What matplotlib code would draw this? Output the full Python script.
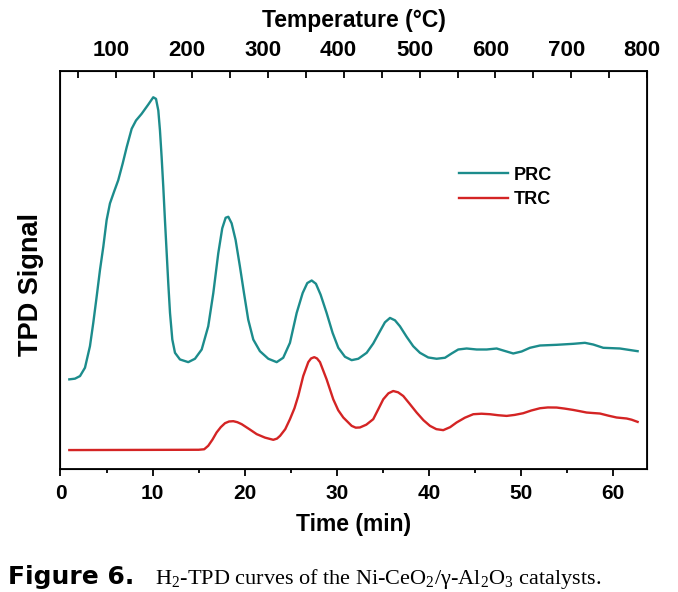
import matplotlib.pyplot as plt
import matplotlib.transforms as mtransforms
from matplotlib.ticker import MultipleLocator

plt.rcParams['font.family'] = ['Liberation Sans', 'DejaVu Sans']
plt.rcParams['mathtext.fontset'] = 'custom'
plt.rcParams['mathtext.rm'] = 'Liberation Serif'

# PRC curve (time in min, signal in a.u.)
prc_t = [0.96, 1.57, 2.12, 2.66, 3.20, 3.56, 3.93, 4.29, 4.65, 5.01, 5.37, 5.81,
         6.27, 6.75, 7.19, 7.73, 8.20, 8.81, 9.53, 10.07, 10.37, 10.62, 10.80, 10.98,
         11.16, 11.34, 11.53, 11.70, 11.89, 12.14, 12.43, 12.97, 13.87, 14.60, 15.33,
         16.04, 16.59, 17.13, 17.56, 17.93, 18.22, 18.58, 19.01, 19.48, 19.92, 20.38,
         20.93, 21.65, 22.56, 23.47, 24.18, 24.91, 25.64, 26.29, 26.79, 27.27, 27.73,
         28.24, 28.89, 29.54, 30.16, 30.88, 31.61, 32.33, 33.24, 33.95, 34.68, 35.22,
         35.77, 36.31, 36.85, 37.58, 38.29, 39.02, 39.92, 40.83, 41.74, 42.46, 43.18,
         44.09, 45.18, 46.26, 47.35, 48.06, 49.15, 50.06, 50.96, 52.05, 53.86, 55.66,
         56.93, 57.83, 58.92, 60.73, 62.65]
prc_s = [90, 90.7, 93.3, 101.7, 123.3, 146.7, 173.3, 200, 223.3, 250, 266.7, 278.3,
         290, 306.7, 323.3, 341.7, 350, 356.7, 366, 373.3, 371.7, 360, 340, 313.3,
         283.3, 250, 216.7, 186.7, 156.7, 130, 116.7, 110, 107.3, 110.7, 120,
         143.3, 176.7, 216.7, 241.7, 252.3, 253.3, 246.7, 230, 203.3, 176.7, 150,
         130, 118.3, 110.7, 107.3, 111.7, 126.7, 156.7, 176.7, 186.7, 189.3, 186,
         175, 156.7, 136.7, 121.7, 112.7, 109.3, 110.7, 116.7, 126, 138.3, 147.3,
         151.7, 149.3, 143.3, 132.7, 123.3, 116.7, 112, 110.7, 111.7, 116, 120,
         121, 120, 120, 121, 119, 116, 118, 121.7, 124, 124.7, 125.7,
         126.7, 125, 121.7, 121, 118.3]

# TRC curve
trc_t = [0.96, 15.0, 15.6, 16.04, 16.5, 16.95, 17.4, 17.86, 18.3, 18.76, 19.2, 19.67,
         20.5, 21.30, 22.2, 23.10, 23.5, 23.84, 24.4, 24.91, 25.4, 25.81, 26.35, 26.90,
         27.2, 27.55, 27.85, 28.17, 28.89, 29.61, 30.15, 30.70, 31.61, 32.05, 32.51,
         33.2, 33.95, 34.5, 35.04, 35.6, 36.12, 36.65, 37.21, 37.9, 38.66, 39.4, 40.11,
         40.8, 41.55, 42.3, 43.00, 43.9, 44.81, 45.7, 46.62, 47.5, 48.43, 49.3, 50.23,
         51.1, 52.05, 52.9, 53.86, 54.7, 55.66, 56.4, 57.11, 57.8, 58.56, 59.5, 60.37,
         61.46, 62.0, 62.65]
trc_s = [19, 19.3, 19.8, 23.3, 29.5, 36.7, 42, 46, 47.7, 48, 47, 45,
         40, 35, 31.5, 29.3, 30.5, 33.3, 40, 50, 61, 73.3, 93.3, 107.3,
         111, 112.3, 111, 107.3, 90, 70, 59, 51.7, 43.3, 41.5, 41.7,
         44.5, 50, 60, 70, 76, 78.3, 77, 73.3, 65.5, 56.7, 49, 43.3,
         40, 39, 42, 46.7, 51.5, 55, 55.5, 55, 54, 53.3, 54.3, 56,
         58.7, 61, 61.8, 61.7, 60.7, 59.3, 58, 56.7, 56.2, 55.7, 53.5, 51.7,
         50.7, 49.5, 47.3]

fig = plt.figure(figsize=(6.78, 5.92), dpi=100)
ax = fig.add_axes([0.0892, 0.2078, 0.8655, 0.6728])

ax.plot(prc_t, prc_s, color='#1c8c8c', lw=1.7, label='PRC')
ax.plot(trc_t, trc_s, color='#d42424', lw=1.7, label='TRC')

ax.set_xlim(0, 63.7)
ax.set_ylim(0, 400)
ax.set_yticks([])
ax.xaxis.set_major_locator(MultipleLocator(10))
ax.xaxis.set_minor_locator(MultipleLocator(5))
ax.tick_params(axis='x', which='major', direction='out', length=5, width=1.3,
               labelsize=15, pad=6)
ax.tick_params(axis='x', which='minor', direction='out', length=3, width=1.3)
for lab in ax.get_xticklabels():
    lab.set_fontweight('bold')
for sp in ax.spines.values():
    sp.set_linewidth(1.3)

ax.set_xlabel('Time (min)', fontsize=16.5, fontweight='bold', labelpad=7)
ax.set_ylabel('TPD Signal', fontsize=19.5, fontweight='bold')
ax.yaxis.set_label_coords(-0.028, 0.464)

# top temperature axis
ax2 = ax.twiny()
ax2.set_xlim(27, 800)
ax2.xaxis.set_minor_locator(MultipleLocator(50))
ax2.set_xticks([100, 200, 300, 400, 500, 600, 700, 800])
ax2.tick_params(axis='x', which='major', direction='in', length=5, width=1.3,
                labelsize=16, pad=7)
ax2.tick_params(axis='x', which='minor', direction='in', length=5, width=1.3)
shift = mtransforms.ScaledTranslation(-5 / 100, 0, fig.dpi_scale_trans)
for lab in ax2.get_xticklabels():
    lab.set_fontweight('bold')
    lab.set_transform(lab.get_transform() + shift)
ax2.set_xlabel('Temperature (°C)', fontsize=16.5, fontweight='bold', labelpad=9)

leg = ax.legend(loc='center left', bbox_to_anchor=(0.679, 0.707), frameon=False,
                prop={'weight': 'bold', 'size': 13}, handlelength=2.7,
                handletextpad=0.35, labelspacing=0.4, borderpad=0, borderaxespad=0)

# caption
fig.text(8 / 678, 1 - 584 / 592, 'Figure 6.', fontsize=18, fontweight='bold',
         family='DejaVu Sans', ha='left', va='baseline')
fig.text(155 / 678, 1 - 584 / 592,
         r'H$_\mathrm{2}$-TPD curves of the Ni-CeO$_\mathrm{2}$/γ-Al$_\mathrm{2}$O$_\mathrm{3}$ catalysts.',
         fontsize=16, family='Liberation Serif', ha='left', va='baseline')

fig.savefig('out.png', dpi=100, facecolor='white')
